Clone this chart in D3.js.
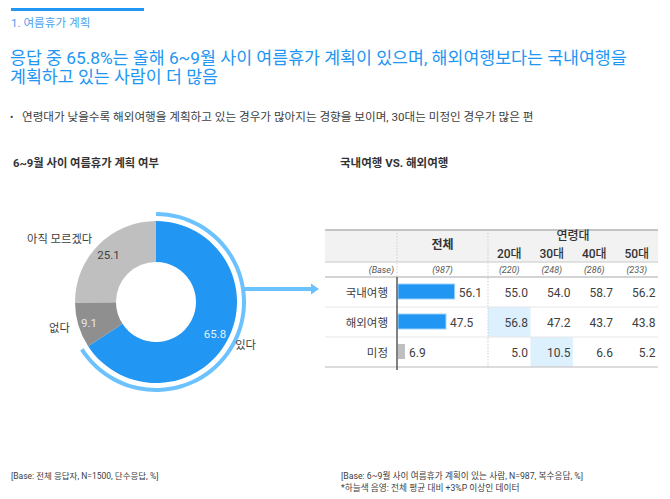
<!DOCTYPE html>
<html><head><meta charset="utf-8">
<script src="https://cdn.jsdelivr.net/npm/d3@7"></script>
<style>
html,body{margin:0;padding:0;background:#fff;}
svg{display:block;font-family:Roboto,"Noto Sans CJK KR",sans-serif;}
</style></head>
<body>
<script>
// ---------- data ----------
const sectionLabel = "1. 여름휴가 계획";
const headlineLines = ["응답 중 65.8%는 올해 6~9월 사이 여름휴가 계획이 있으며, 해외여행보다는 국내여행을", "계획하고 있는 사람이 더 많음"];
const bulletText = "연령대가 낮을수록 해외여행을 계획하고 있는 경우가 많아지는 경향을 보이며, 30대는 미정인 경우가 많은 편";
const pieTitle = "6~9월 사이 여름휴가 계획 여부";
const pieLabels = ["있다", "없다", "아직 모르겠다"];
const pieValues = [65.8, 9.1, 25.1];
const tableTitle = "국내여행 VS. 해외여행";
const rowLabels = ["국내여행", "해외여행", "미정"];
const totalValues = [56.1, 47.5, 6.9];
const ageGroups = ["20대", "30대", "40대", "50대"];
const ageValues = [
  [55.0, 54.0, 58.7, 56.2],
  [56.8, 47.2, 43.7, 43.8],
  [5.0, 10.5, 6.6, 5.2]
];
const baseTotal = 987;
const baseAges = [220, 248, 286, 233];
const footLeft = "[Base: 전체 응답자, N=1500, 단수응답, %]";
const footRight = ["[Base: 6~9월 사이 여름휴가 계획이 있는 사람, N=987, 복수응답, %]", "*하늘색 음영: 전체 평균 대비 +3%P 이상인 데이터"];

// ---------- setup ----------
const W = 670, H = 499;
const svg = d3.select("body").append("svg").attr("width", W).attr("height", H);
const BLUE = "#2196F3", LIGHTBLUE = "#6CC2FF", TXT = "#404040";

// header
svg.append("rect").attr("x", 11).attr("y", 8).attr("width", 133).attr("height", 3).attr("fill", BLUE);
svg.append("text").attr("x", 11).attr("y", 27).attr("font-size", 11.6).attr("fill", "#4DA3F0").text(sectionLabel);
headlineLines.forEach((t, i) => {
  svg.append("text").attr("x", 10).attr("y", 64 + i * 19).attr("font-size", 17.3).attr("fill", BLUE).text(t);
});
svg.append("text").attr("x", 10).attr("y", 121).attr("font-size", 10).attr("fill", TXT).text("•");
svg.append("text").attr("x", 22).attr("y", 121).attr("font-size", 11.6).attr("fill", TXT).text(bulletText);

// ---------- donut ----------
svg.append("text").attr("x", 13).attr("y", 167).attr("font-size", 11.3).attr("font-weight", "bold").attr("fill", "#333").text(pieTitle);
const cx = 156, cy = 302;
const pieColors = [BLUE, "#8F8F8F", "#BFBFBF"];
const pieTextColors = ["#E3F1FD", "#E6E6E6", "#404040"];
const pie = d3.pie().sort(null).value(d => d)(pieValues);
const arc = d3.arc().innerRadius(40).outerRadius(81);
const g = svg.append("g").attr("transform", `translate(${cx},${cy})`);
g.selectAll("path.slice").data(pie).join("path").attr("class", "slice")
  .attr("d", arc).attr("fill", (d, i) => pieColors[i]);
// highlight arc around "있다"
g.append("path").attr("d", d3.arc().innerRadius(86).outerRadius(90)
  .startAngle(pie[0].startAngle).endAngle(pie[0].endAngle + 0.01)()).attr("fill", LIGHTBLUE);
// values
g.selectAll("text.val").data(pie).join("text").attr("class", "val")
  .attr("x", (d, i) => Math.sin((d.startAngle + d.endAngle) / 2) * (i === 1 ? 70 : 67))
  .attr("y", (d, i) => -Math.cos((d.startAngle + d.endAngle) / 2) * (i === 1 ? 70 : 67) + 4.5)
  .attr("text-anchor", "middle").attr("font-size", 11.5)
  .attr("fill", (d, i) => pieTextColors[i]).text(d => d.value.toFixed(1));
// category labels
g.selectAll("text.cat").data(pie).join("text").attr("class", "cat")
  .attr("x", d => Math.sin((d.startAngle + d.endAngle) / 2) * 90)
  .attr("y", d => -Math.cos((d.startAngle + d.endAngle) / 2) * 90 + 4)
  .attr("text-anchor", d => Math.sin((d.startAngle + d.endAngle) / 2) > 0 ? "start" : "end")
  .attr("font-size", 11.3).attr("fill", TXT).text((d, i) => pieLabels[i]);
// arrow
svg.append("rect").attr("x", 243).attr("y", 287).attr("width", 70).attr("height", 4).attr("fill", LIGHTBLUE);
svg.append("path").attr("d", "M311,283.5 L319,289 L311,294.5 Z").attr("fill", LIGHTBLUE);

// ---------- table ----------
svg.append("text").attr("x", 340).attr("y", 167).attr("font-size", 11.5).attr("font-weight", "bold").attr("fill", "#333").text(tableTitle);
const tL = 325, tR = 658, labelEnd = 397, totalEnd = 488;
const hTop = 230, hBot = 262, baseBot = 277;
const y = d3.scaleBand().domain(rowLabels).range([baseBot, 367]);
const xAge = d3.scaleBand().domain(ageGroups).range([totalEnd, tR]);
const xBar = d3.scaleLinear().domain([0, 100]).range([0, 101]);

svg.append("rect").attr("x", tL).attr("y", hTop).attr("width", tR - tL).attr("height", hBot - hTop).attr("fill", "#F2F2F2");
// highlight cells (>= total + 3)
ageValues.forEach((row, ri) => row.forEach((v, ci) => {
  if (v >= totalValues[ri] + 3) {
    svg.append("rect").attr("x", xAge(ageGroups[ci])).attr("y", y(rowLabels[ri]))
      .attr("width", xAge.bandwidth()).attr("height", y.bandwidth()).attr("fill", "#DDF0FD");
  }
}));
// lines
const hline = (yy, c, w) => svg.append("line").attr("x1", tL).attr("x2", tR).attr("y1", yy).attr("y2", yy).attr("stroke", c).attr("stroke-width", w);
hline(hTop, "#C4C4C4", 2);
hline(hBot, "#D9D9D9", 1.5);
hline(baseBot, "#D4D4D4", 2);
rowLabels.slice(1).forEach(r => hline(y(r), "#E6E6E6", 1));
hline(367, "#D0D0D0", 1.5);
svg.append("line").attr("x1", labelEnd).attr("x2", labelEnd).attr("y1", hTop).attr("y2", baseBot)
  .attr("stroke", "#CFCFCF").attr("stroke-dasharray", "1.5,1.5");
svg.append("line").attr("x1", totalEnd).attr("x2", totalEnd).attr("y1", hTop).attr("y2", 367)
  .attr("stroke", "#CFCFCF").attr("stroke-dasharray", "1.5,1.5");

// header text
const totalMid = (labelEnd + totalEnd) / 2;
svg.append("text").attr("x", totalMid).attr("y", 249).attr("text-anchor", "middle").attr("font-size", 12).attr("font-weight", "bold").attr("fill", "#333").text("전체");
svg.append("text").attr("x", (totalEnd + tR) / 2).attr("y", 240).attr("text-anchor", "middle").attr("font-size", 12).attr("font-weight", 500).attr("fill", "#333").text("연령대");
svg.selectAll("text.age").data(ageGroups).join("text").attr("class", "age")
  .attr("x", d => xAge(d) + xAge.bandwidth() / 2).attr("y", 258).attr("text-anchor", "middle")
  .attr("font-size", 12).attr("font-weight", 500).attr("fill", "#333").text(d => d);
// base row
const baseStyle = s => s.attr("font-size", 9).attr("font-style", "italic").attr("fill", "#595959");
baseStyle(svg.append("text").attr("x", labelEnd - 3).attr("y", 273).attr("text-anchor", "end").text("(Base)"));
baseStyle(svg.append("text").attr("x", totalMid).attr("y", 273).attr("text-anchor", "middle").text(`(${baseTotal})`));
svg.selectAll("text.base").data(baseAges).join("text").attr("class", "base")
  .attr("x", (d, i) => xAge(ageGroups[i]) + xAge.bandwidth() / 2).attr("y", 273).attr("text-anchor", "middle")
  .call(baseStyle).text(d => `(${d})`);

// row labels
svg.selectAll("text.rl").data(rowLabels).join("text").attr("class", "rl")
  .attr("x", 388).attr("y", d => y(d) + y.bandwidth() / 2 + 4.5).attr("text-anchor", "end")
  .attr("font-size", 11.5).attr("fill", TXT).text(d => d);
// bars
const barH = 15;
svg.selectAll("rect.bar").data(totalValues).join("rect").attr("class", "bar")
  .attr("x", labelEnd + 1).attr("y", (d, i) => y(rowLabels[i]) + (y.bandwidth() - barH) / 2 - 0.5)
  .attr("width", d => xBar(d)).attr("height", barH)
  .attr("fill", (d, i) => i === 2 ? "#BFBFBF" : BLUE)
  .attr("stroke", (d, i) => i === 2 ? "none" : "#9CD0FA").attr("stroke-width", 1);
svg.selectAll("text.bv").data(totalValues).join("text").attr("class", "bv")
  .attr("x", d => labelEnd + 1 + xBar(d) + 4).attr("y", (d, i) => y(rowLabels[i]) + y.bandwidth() / 2 + 4.5)
  .attr("font-size", 12).attr("fill", TXT).text(d => d.toFixed(1));
// axis line
svg.append("line").attr("x1", labelEnd).attr("x2", labelEnd).attr("y1", baseBot).attr("y2", 370)
  .attr("stroke", "#595959").attr("stroke-width", 1.5);
// age values
ageValues.forEach((row, ri) => {
  svg.selectAll(`text.av${ri}`).data(row).join("text").attr("class", `av${ri}`)
    .attr("x", (d, ci) => xAge(ageGroups[ci]) + xAge.bandwidth() - 2.5)
    .attr("y", y(rowLabels[ri]) + y.bandwidth() / 2 + 4.5)
    .attr("text-anchor", "end").attr("font-size", 12).attr("fill", TXT).text(d => d.toFixed(1));
});

// footnotes
svg.append("text").attr("x", 11).attr("y", 479).attr("font-size", 8.5).attr("fill", TXT).text(footLeft);
footRight.forEach((t, i) => svg.append("text").attr("x", 341).attr("y", 479 + i * 12).attr("font-size", 8.7).attr("fill", TXT).text(t));
</script>
</body></html>
